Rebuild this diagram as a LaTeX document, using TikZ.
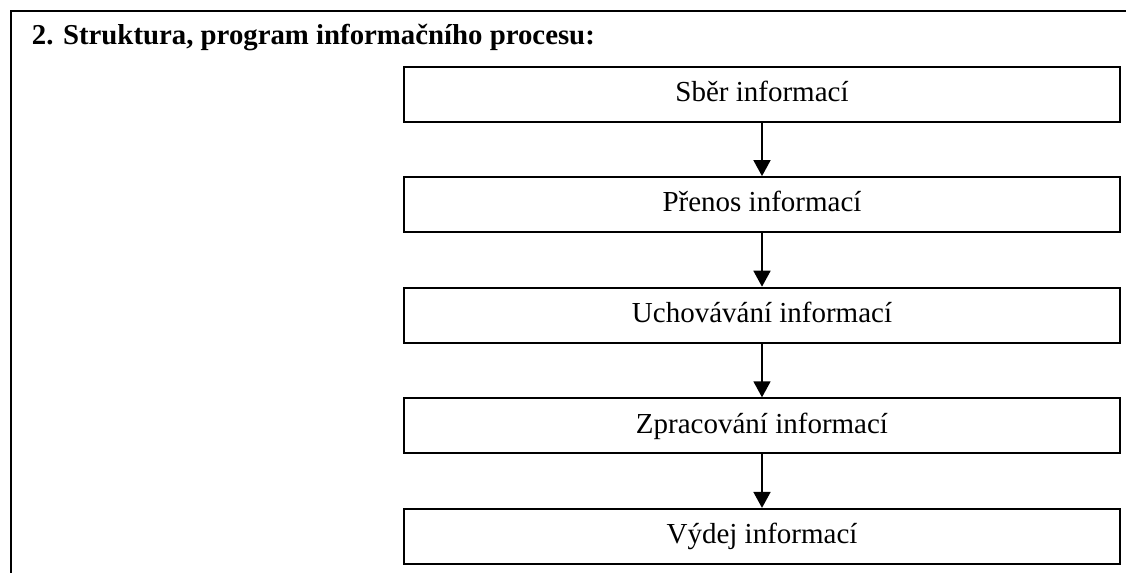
\documentclass[tikz,border=0pt]{standalone}
\usepackage{fontspec}
\setmainfont{Liberation Serif}
\usetikzlibrary{arrows.meta}
\tikzset{
  stepbox/.style={draw=black, line width=1pt, minimum width=358pt, minimum height=27.5pt,
                  inner sep=0pt, text height=0.93em, text depth=0.2em,
                  font=\fontsize{14.5}{17}\selectfont},
  flow/.style={-{Triangle[length=8pt,width=8.5pt]}, line width=0.9pt, draw=black},
  heading/.style={anchor=base west, inner sep=0pt, font=\fontsize{14.4}{17}\selectfont\bfseries}
}
\begin{document}
\begin{tikzpicture}[x=0.5pt,y=-0.5pt]
  \useasboundingbox (0,0) rectangle (1126,573);
  % frame: left and top rule only
  \draw[line width=1pt] (10.5,573) -- (10.5,10.5) -- (1126,10.5);
  \node[heading] (title) at (31.5,45) {2. Struktura, program informačního procesu:};

  % the five stages of the process
  \node[stepbox] (sber)    at (762,94)    {Sběr informací};
  \node[stepbox] (prenos)  at (762,204.6) {Přenos informací};
  \node[stepbox] (uchov)   at (762,315.2) {Uchovávání informací};
  \node[stepbox] (zprac)   at (762,425.8) {Zpracování informací};
  \node[stepbox] (vydej)   at (762,536.4) {Výdej informací};

  \draw[flow] (sber)   -- (prenos);
  \draw[flow] (prenos) -- (uchov);
  \draw[flow] (uchov)  -- (zprac);
  \draw[flow] (zprac)  -- (vydej);
\end{tikzpicture}
\end{document}
